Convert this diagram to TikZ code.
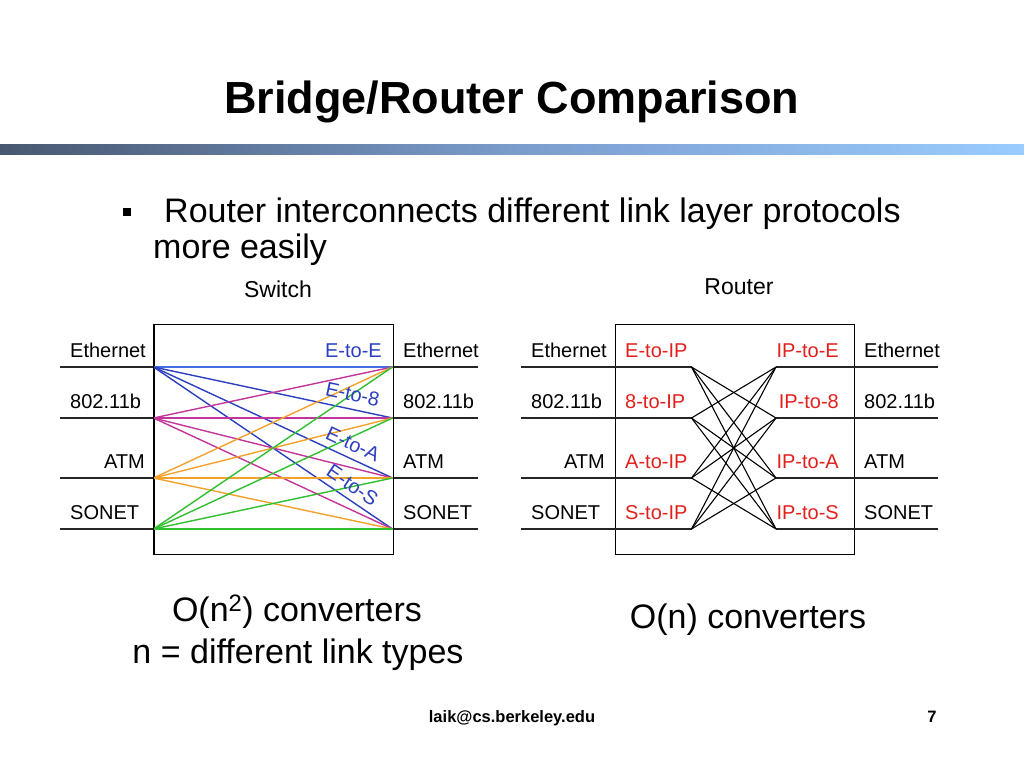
\documentclass[tikz,border=0pt]{standalone}
\usepackage{fontspec}
\setmainfont{Liberation Sans}
\definecolor{lblue}{HTML}{2B3FBF}
\definecolor{hblue}{HTML}{3F6FE0}
\definecolor{lmag}{HTML}{C2359A}
\definecolor{lorange}{HTML}{F2A22A}
\definecolor{lgreen}{HTML}{2FBF2F}
\definecolor{lred}{HTML}{E0201C}
\definecolor{barL}{HTML}{485870}
\definecolor{barM}{HTML}{7A9CCC}
\definecolor{barR}{HTML}{9ACCFF}
\tikzset{
  lbl/.style={font=\fontsize{20}{23}\selectfont, inner sep=0pt},
  rlbl/.style={lbl, text=lred},
  blbl/.style={lbl, text=lblue},
  big/.style={font=\fontsize{34}{40}\selectfont, inner sep=0pt},
  hd/.style={font=\fontsize{23}{27}\selectfont, inner sep=0pt},
  layer/.style={line width=1.1pt, black!85},
  frame/.style={draw, line width=1pt},
  conv/.style={line width=1.4pt},
  xline/.style={line width=1.1pt, black}
}
\begin{document}
\begin{tikzpicture}[x=1pt,y=-1pt]
\useasboundingbox (0,0) rectangle (1024,768);
% title and bar
\node[font=\fontsize{45}{54}\selectfont\bfseries, anchor=base, inner sep=0pt] (title) at (512,113) {Bridge/Router Comparison};
\shade[left color=barL, right color=barR, middle color=barM] (0,144) rectangle (1024,154);
% bullet
\node[fill=black, minimum size=8pt, inner sep=0pt] (bul) at (127,212) {};
\node[big, anchor=base west] (b1) at (164,222) {Router interconnects different link layer protocols};
\node[big, anchor=base west] (b2) at (153,258) {more easily};
% headings
\node[hd, anchor=base] (hsw) at (278,297) {Switch};
\node[hd, anchor=base] (hrt) at (739,294) {Router};

% ---------------- Switch ----------------
\node[frame, minimum width=239pt, minimum height=230pt, anchor=north west, inner sep=0pt] (swbox) at (153.5,324) {};
\foreach \i/\y in {1/367,2/418,3/478,4/529}{
  \coordinate (sa\i) at (60,\y);
  \coordinate (sb\i) at (478,\y);
  \coordinate (sL\i) at (153.5,\y);
  \coordinate (sR\i) at (392.5,\y);
}
\foreach \i in {1,...,4}{ \draw[layer] (sa\i) -- (sL\i); \draw[layer] (sR\i) -- (sb\i); }
% colored converters
\draw[conv, hblue] (sL1) -- (sR1);
\foreach \j in {2,3,4} \draw[conv, lblue] (sL1) -- (sR\j);
\foreach \j in {1,2,3,4} \draw[conv, lmag] (sL2) -- (sR\j);
\foreach \j in {1,2,3,4} \draw[conv, lorange] (sL3) -- (sR\j);
\foreach \j in {1,2,3,4} \draw[conv, lgreen] (sL4) -- (sR\j);
\draw[line width=1pt] (swbox.north west) -- (swbox.south west);
\draw[line width=1pt] (swbox.north east) -- (swbox.south east);
% labels
\node[lbl, anchor=base west] (se1) at (70,357) {Ethernet};
\node[lbl, anchor=base west] (se2) at (70,408) {802.11b};
\node[lbl, anchor=base east] (se3) at (145,468) {ATM};
\node[lbl, anchor=base west] (se4) at (70,519) {SONET};
\node[lbl, anchor=base west] (sf1) at (403,357) {Ethernet};
\node[lbl, anchor=base west] (sf2) at (403,408) {802.11b};
\node[lbl, anchor=base west] (sf3) at (403,468) {ATM};
\node[lbl, anchor=base west] (sf4) at (403,519) {SONET};
\node[blbl, anchor=base east] (ee) at (382,357) {E-to-E};
\path (sL1) -- node[blbl, sloped, pos=0.82, yshift=15pt] (e8) {E-to-8} (sR2);
\path (sL1) -- node[blbl, sloped, pos=0.81, yshift=14pt] (ea) {E-to-A} (sR3);
\path (sL1) -- node[blbl, sloped, pos=0.80, yshift=14pt] (es) {E-to-S} (sR4);

% ---------------- Router ----------------
\node[frame, minimum width=239pt, minimum height=230pt, anchor=north west, inner sep=0pt] (rtbox) at (614.5,324) {};
\foreach \i/\y in {1/367,2/418,3/478,4/529}{
  \coordinate (ra\i) at (521,\y);
  \coordinate (rb\i) at (938,\y);
  \coordinate (rL\i) at (691.5,\y);
  \coordinate (rR\i) at (776,\y);
}
\foreach \i in {1,...,4}{ \draw[layer] (ra\i) -- (rL\i); \draw[layer] (rR\i) -- (rb\i); }
\foreach \i in {1,...,4}{
  \foreach \j in {1,...,4}{
    \ifnum\i=\j\else \draw[xline] (rL\i) -- (rR\j); \fi
  }
}
\node[lbl, anchor=base west] (re1) at (531,357) {Ethernet};
\node[lbl, anchor=base west] (re2) at (531,408) {802.11b};
\node[lbl, anchor=base east] (re3) at (605,468) {ATM};
\node[lbl, anchor=base west] (re4) at (531,519) {SONET};
\node[lbl, anchor=base west] (rf1) at (864,357) {Ethernet};
\node[lbl, anchor=base west] (rf2) at (864,408) {802.11b};
\node[lbl, anchor=base west] (rf3) at (864,468) {ATM};
\node[lbl, anchor=base west] (rf4) at (864,519) {SONET};
\node[rlbl, anchor=base west] (c1) at (625,357) {E-to-IP};
\node[rlbl, anchor=base west] (c2) at (625,408) {8-to-IP};
\node[rlbl, anchor=base west] (c3) at (625,468) {A-to-IP};
\node[rlbl, anchor=base west] (c4) at (625,519) {S-to-IP};
\node[rlbl, anchor=base east] (d1) at (839,357) {IP-to-E};
\node[rlbl, anchor=base east] (d2) at (839,408) {IP-to-8};
\node[rlbl, anchor=base east] (d3) at (839,468) {IP-to-A};
\node[rlbl, anchor=base east] (d4) at (839,519) {IP-to-S};

% bottom texts
\node[big, anchor=base] (on2) at (297,621) {O(n\textsuperscript{2}) converters};
\node[big, anchor=base] (ndef) at (298,663) {n = different link types};
\node[big, anchor=base] (on1) at (748,628) {O(n) converters};
% footer
\node[font=\fontsize{16.5}{20}\selectfont\bfseries, anchor=base, inner sep=0pt] (mail) at (512,722) {laik@cs.berkeley.edu};
\node[font=\fontsize{16.5}{20}\selectfont\bfseries, anchor=base, inner sep=0pt] (pg) at (932,722) {7};
\end{tikzpicture}
\end{document}
